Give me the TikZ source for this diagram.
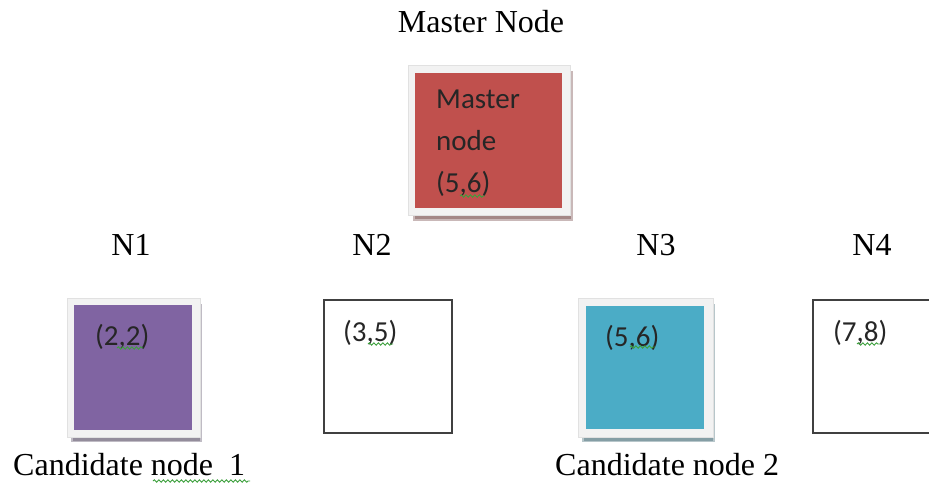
\documentclass[tikz,border=0pt]{standalone}
\usepackage{fontspec}
\setmainfont{Liberation Serif}
\newfontfamily\boxfont{Carlito}
\usetikzlibrary{decorations.pathmorphing}

\definecolor{masterred}{HTML}{C0504D}
\definecolor{candpurple}{HTML}{8064A2}
\definecolor{candcyan}{HTML}{4BACC6}
\definecolor{framegray}{HTML}{F2F2F2}
\definecolor{edgegray}{HTML}{404040}
\definecolor{spellgreen}{HTML}{3CA03C}

\begin{document}
\begin{tikzpicture}[x=1pt,y=-1pt,
  boxframe/.style={rectangle, fill=framegray, draw=framegray!85!gray, line width=0.6pt,
    minimum width=#1, inner sep=0pt},
  boxshadow/.style={rectangle, fill=#1!30!gray!85!white, draw=#1!30!gray!50!white,
    line width=1.5pt, inner sep=0pt},
  fillbox/.style={rectangle, fill=#1, draw=none, inner sep=0pt},
  plainbox/.style={rectangle, fill=white, draw=edgegray, line width=1.8pt,
    minimum width=128pt, minimum height=133pt, inner sep=0pt},
  caption/.style={font=\fontsize{32}{38}\selectfont, inner sep=0pt},
  coordtext/.style={font=\boxfont\fontsize{29}{42}\selectfont, inner sep=0pt,
    anchor=west, align=left, text=black!85},
  spell/.style={draw=spellgreen, line width=0.9pt,
    decorate, decoration={snake, amplitude=1.2pt, segment length=4.5pt}}]

\useasboundingbox (0,0) rectangle (929,483);
\fill[white] (0,0) rectangle (929,483);

% ---- master node ----
\node[caption] (mastertitle) at (481,22) {Master Node};
\node[boxshadow=masterred, minimum width=158pt, minimum height=148pt] (mshadow) at (493,146) {};
\node[boxframe=162pt, minimum height=150pt] (mframe) at (489,140) {};
\node[fillbox=masterred, minimum width=147pt, minimum height=135pt] (master) at (488.5,140.5) {};
\node[coordtext] (mastertext) at (436,143) {Master\\node\\(5,6)};
\draw[spell] (460,196) -- (485,196);

% ---- row labels ----
\node[caption] (lN1) at (131,245) {N1};
\node[caption] (lN2) at (372,245) {N2};
\node[caption] (lN3) at (656,245) {N3};
\node[caption] (lN4) at (872,245) {N4};

% ---- N1: candidate node 1 ----
\node[boxshadow=candpurple, minimum width=129pt, minimum height=137pt] (n1shadow) at (136.5,373) {};
\node[boxframe=133pt, minimum height=139pt] (n1frame) at (133.5,367.5) {};
\node[fillbox=candpurple, minimum width=118pt, minimum height=125pt] (n1) at (133,367.5) {};
\node[coordtext] (n1text) at (95,337) {(2,2)};
\draw[spell] (117,348) -- (143,348);

% ---- N2 ----
\node[plainbox] (n2) at (388,366.5) {};
\node[coordtext] (n2text) at (343,333) {(3,5)};
\draw[spell] (368,344) -- (393,344);

% ---- N3: candidate node 2 ----
\node[boxshadow=candcyan, minimum width=131pt, minimum height=137pt] (n3shadow) at (648.5,373) {};
\node[boxframe=135pt, minimum height=139pt] (n3frame) at (645.5,367.5) {};
\node[fillbox=candcyan, minimum width=118pt, minimum height=123pt] (n3) at (645,367.5) {};
\node[coordtext] (n3text) at (605,338) {(5,6)};
\draw[spell] (630,347) -- (655,347);

% ---- N4 ----
\node[plainbox] (n4) at (877,366.5) {};
\node[coordtext] (n4text) at (833,333) {(7,8)};
\draw[spell] (857,344) -- (880,344);

% ---- captions below ----
\node[caption, anchor=west] (cand1) at (13,465) {Candidate node\ \ 1};
\draw[spell] (153,481) -- (250,481);
\node[caption, anchor=west] (cand2) at (555,465) {Candidate node 2};

\end{tikzpicture}
\end{document}
